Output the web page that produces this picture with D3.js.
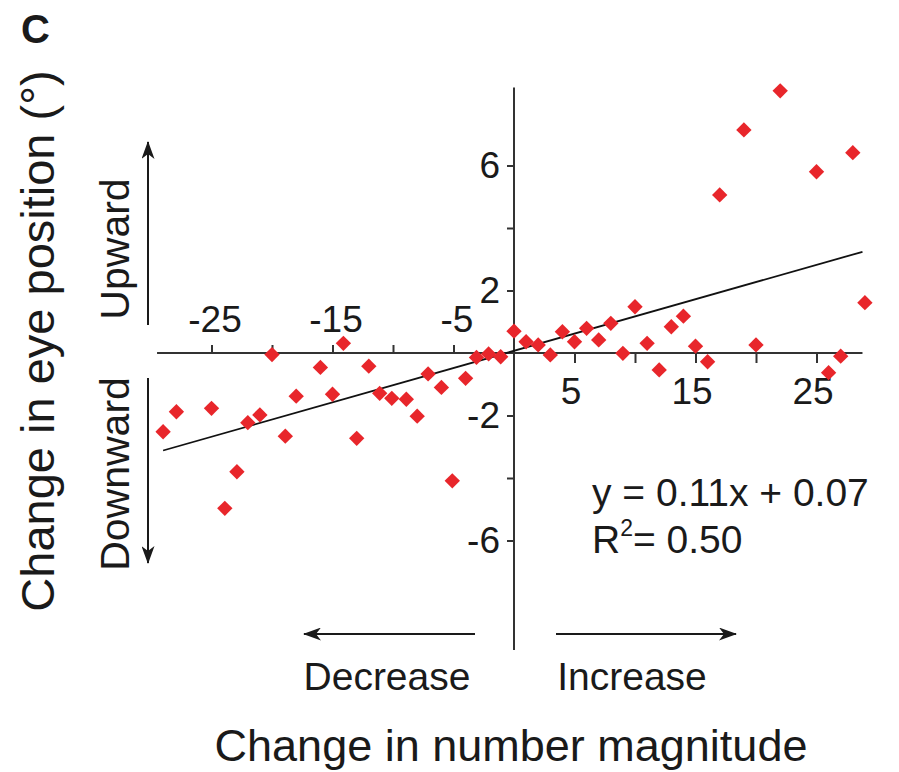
<!DOCTYPE html>
<html>
<head>
<meta charset="utf-8">
<script src="https://cdn.jsdelivr.net/npm/d3@7"></script>
<style>
  html, body { margin: 0; padding: 0; background: #fff; }
  svg text { font-family: "Liberation Sans", Arial, Helvetica, sans-serif; fill: #1a1a1a; }
</style>
</head>
<body>
<svg id="chart" width="899" height="772"></svg>
<script>
// ---- data ----
const magnitudeChange = [-29.0, -27.9, -25.0, -23.9, -22.9, -22.0, -21.0, -20.0, -18.9, -18.0,
  -16.0, -15.0, -14.1, -13.0, -12.0, -11.1, -10.1, -8.9, -8.0, -7.1,
  -6.0, -5.1, -4.0, -3.1, -2.1, -1.1, 0.0, 1.0, 2.0, 3.0,
  4.0, 5.0, 6.0, 7.0, 8.0, 9.0, 10.0, 11.0, 12.0, 13.0,
  14.0, 15.0, 16.0, 17.0, 19.0, 20.0, 22.0, 25.0, 26.0, 27.0,
  28.0, 29.0];
const eyeChange = [-2.52, -1.88, -1.77, -4.97, -3.80, -2.23, -1.98, -0.05, -2.66, -1.38,
  -0.46, -1.32, 0.31, -2.73, -0.42, -1.29, -1.45, -1.48, -2.02, -0.67,
  -1.10, -4.09, -0.81, -0.14, -0.03, -0.12, 0.70, 0.36, 0.26, -0.06,
  0.68, 0.36, 0.79, 0.42, 0.95, -0.01, 1.48, 0.31, -0.54, 0.84,
  1.18, 0.22, -0.28, 5.06, 7.14, 0.26, 8.39, 5.80, -0.63, -0.10,
  6.41, 1.61];
const fitSlope = 0.11;
const fitIntercept = 0.07;
const fitRange = [-29, 28.8];
const xTicksNeg = [-25, -20, -15, -10, -5];
const xTicksPos = [5, 10, 15, 20, 25];
const xLabelsShown = [-25, -15, -5, 5, 15, 25];
const yTicks = [-6, -4, -2, 2, 4, 6];
const yLabelsShown = [-6, -2, 2, 6];
const xAxisExtent = [-29.5, 28.8];
const yAxisExtent = [-9.5, 8.5];

// ---- layout ----
const svg = d3.select("#chart");
const cx = 514, cy = 353;
const x = d3.scaleLinear().domain([-30, 30]).range([cx - 363, cx + 363]);
const y = d3.scaleLinear().domain([-10, 10]).range([cy + 312.5, cy - 312.5]);
const axisColor = "#333";
const red = "#e8262b";

const defs = svg.append("defs");
defs.append("marker").attr("id", "arrow")
  .attr("viewBox", "0 0 18 13").attr("refX", 17).attr("refY", 6.5)
  .attr("markerWidth", 18).attr("markerHeight", 13)
  .attr("markerUnits", "userSpaceOnUse").attr("orient", "auto")
  .append("path").attr("d", "M0,0 L18,6.5 L0,13 L5,6.5 Z").attr("fill", "#1a1a1a");

// axis lines
svg.append("line")
  .attr("x1", x(xAxisExtent[0])).attr("x2", x(xAxisExtent[1]))
  .attr("y1", y(0)).attr("y2", y(0))
  .attr("stroke", axisColor).attr("stroke-width", 2);
svg.append("line")
  .attr("x1", x(0)).attr("x2", x(0))
  .attr("y1", y(yAxisExtent[1])).attr("y2", y(yAxisExtent[0]))
  .attr("stroke", axisColor).attr("stroke-width", 2);

function styleAxis(g) {
  g.select(".domain").remove();
  g.selectAll(".tick line").attr("stroke", axisColor).attr("stroke-width", 2);
  g.selectAll(".tick text").attr("font-size", 37)
    .attr("font-family", "'Liberation Sans', Arial, sans-serif").attr("fill", "#1a1a1a");
}
const fmtX = d => xLabelsShown.includes(d) ? String(d) : "";
const fmtY = d => yLabelsShown.includes(d) ? String(d) : "";

svg.append("g").attr("transform", `translate(0,${y(0)})`)
  .call(d3.axisTop(x).tickValues(xTicksNeg).tickSize(8).tickPadding(13).tickFormat(fmtX))
  .call(styleAxis)
  .call(g => g.selectAll(".tick text").attr("dx", 3));
svg.append("g").attr("transform", `translate(0,${y(0)})`)
  .call(d3.axisBottom(x).tickValues(xTicksPos).tickSize(10).tickPadding(15).tickFormat(fmtX))
  .call(styleAxis)
  .call(g => g.selectAll(".tick text").attr("dx", -4));
svg.append("g").attr("transform", `translate(${x(0)},0)`)
  .call(d3.axisLeft(y).tickValues(yTicks).tickSize(7).tickPadding(7).tickFormat(fmtY))
  .call(styleAxis);

// regression line
svg.append("line")
  .attr("x1", x(fitRange[0])).attr("y1", y(fitSlope * fitRange[0] + fitIntercept))
  .attr("x2", x(fitRange[1])).attr("y2", y(fitSlope * fitRange[1] + fitIntercept))
  .attr("stroke", "#111").attr("stroke-width", 1.8);

// points (diamonds)
const pts = magnitudeChange.map((v, i) => ({ x: v, y: eyeChange[i] }));
const diamond = d3.symbol().type(d3.symbolSquare).size(118);
svg.append("g").selectAll("path").data(pts).join("path")
  .attr("d", diamond)
  .attr("transform", d => `translate(${x(d.x)},${y(d.y)}) rotate(45)`)
  .attr("fill", red);

// equation
const eq = svg.append("text").attr("x", 592).attr("y", 506).attr("font-size", 39);
eq.text("y = 0.11x + 0.07");
const r2 = svg.append("text").attr("x", 592).attr("y", 553).attr("font-size", 39);
r2.append("tspan").text("R");
r2.append("tspan").attr("font-size", 23).attr("dy", -17).text("2");
r2.append("tspan").attr("dy", 17).text("= 0.50");

// panel label
svg.append("text").attr("x", 21).attr("y", 43).attr("font-size", 40).attr("font-weight", "bold").text("C");

// y-axis title
svg.append("text").attr("transform", "translate(54,341) rotate(-90)")
  .attr("text-anchor", "middle").attr("font-size", 47)
  .text("Change in eye position (°)");

// Upward / Downward
svg.append("text").attr("transform", "translate(129,249) rotate(-90)")
  .attr("text-anchor", "middle").attr("font-size", 41).text("Upward");
svg.append("text").attr("transform", "translate(129,474) rotate(-90)")
  .attr("text-anchor", "middle").attr("font-size", 41).text("Downward");
svg.append("line").attr("x1", 148).attr("x2", 148).attr("y1", 325).attr("y2", 142)
  .attr("stroke", "#1a1a1a").attr("stroke-width", 2).attr("marker-end", "url(#arrow)");
svg.append("line").attr("x1", 148).attr("x2", 148).attr("y1", 378).attr("y2", 563)
  .attr("stroke", "#1a1a1a").attr("stroke-width", 2).attr("marker-end", "url(#arrow)");

// Decrease / Increase
svg.append("line").attr("x1", 475).attr("x2", 304).attr("y1", 634).attr("y2", 634)
  .attr("stroke", "#1a1a1a").attr("stroke-width", 2).attr("marker-end", "url(#arrow)");
svg.append("line").attr("x1", 556).attr("x2", 736).attr("y1", 634).attr("y2", 634)
  .attr("stroke", "#1a1a1a").attr("stroke-width", 2).attr("marker-end", "url(#arrow)");
svg.append("text").attr("x", 387).attr("y", 690).attr("text-anchor", "middle")
  .attr("font-size", 39).text("Decrease");
svg.append("text").attr("x", 632).attr("y", 690).attr("text-anchor", "middle")
  .attr("font-size", 39).text("Increase");

// x-axis title
svg.append("text").attr("x", 511).attr("y", 761).attr("text-anchor", "middle")
  .attr("font-size", 45).text("Change in number magnitude");
</script>
</body>
</html>
